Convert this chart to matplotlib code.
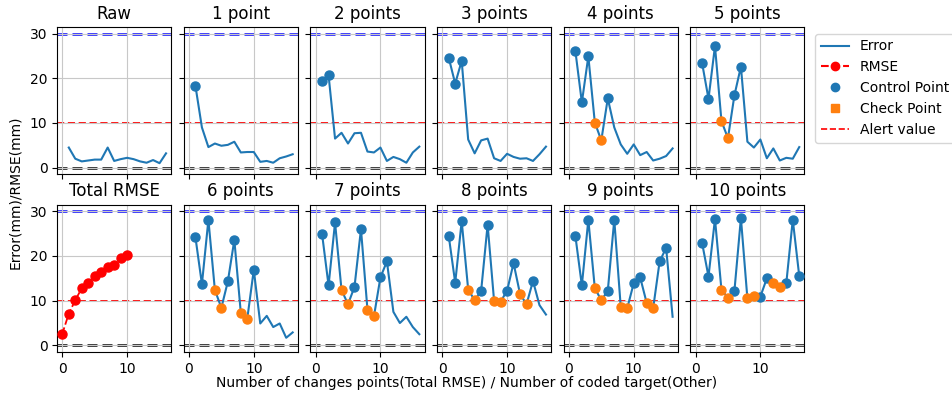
import matplotlib
matplotlib.use("Agg")
import matplotlib.pyplot as plt
from matplotlib.lines import Line2D

# ---------------- data ----------------
targets = [1, 2, 3, 4, 5, 6, 7, 8, 9, 10, 11, 12, 13, 14, 15, 16]

err_raw = [4.5, 2.0, 1.4, 1.6, 1.8, 1.8, 4.5, 1.5, 1.9, 2.2, 1.9, 1.4, 1.1, 1.7, 1.0, 3.2]
err_1 = [18.3, 9.0, 4.6, 5.4, 4.9, 5.1, 5.8, 3.4, 3.5, 3.5, 1.3, 1.5, 1.1, 2.1, 2.5, 3.0]
err_2 = [19.4, 20.7, 6.5, 7.8, 5.4, 7.7, 7.8, 3.6, 3.4, 4.5, 1.5, 2.4, 1.9, 1.1, 3.4, 4.7]
err_3 = [24.6, 18.8, 23.9, 6.3, 3.2, 6.1, 6.5, 2.1, 1.5, 3.1, 2.4, 2.0, 2.1, 1.5, 3.0, 4.7]
err_4 = [26.1, 14.6, 24.9, 10.1, 6.1, 15.5, 9.0, 5.2, 3.1, 5.2, 2.8, 3.5, 1.6, 2.0, 2.6, 4.3]
err_5 = [23.5, 15.4, 27.2, 10.4, 6.6, 16.2, 22.6, 5.8, 4.5, 6.3, 2.1, 4.3, 1.6, 2.2, 2.0, 4.6]
err_6 = [24.2, 13.7, 28.1, 12.4, 8.4, 14.3, 23.6, 7.3, 6.0, 16.9, 4.9, 6.6, 4.1, 4.9, 1.7, 2.9]
err_7 = [24.9, 13.4, 27.5, 12.4, 9.2, 13.1, 26.0, 8.0, 6.5, 15.2, 18.8, 7.5, 5.0, 6.4, 4.1, 2.5]
err_8 = [24.5, 14.0, 27.8, 12.5, 10.1, 12.2, 27.0, 9.9, 9.8, 12.2, 18.4, 11.5, 9.2, 14.4, 9.0, 6.9]
err_9 = [24.5, 13.4, 28.1, 12.8, 10.1, 12.2, 28.1, 8.6, 8.3, 13.9, 15.2, 9.5, 8.3, 18.8, 21.8, 6.4]
err_10 = [23.0, 15.4, 28.3, 12.4, 10.7, 12.2, 28.5, 10.5, 11.0, 10.9, 15.0, 13.9, 13.0, 13.9, 28.1, 15.5]

# indices (into targets) of control points and check points per panel
ctrl_1 = [0]
ctrl_2 = [0, 1]
ctrl_3 = [0, 1, 2]
ctrl_4 = [0, 1, 2, 5]
ctrl_5 = [0, 1, 2, 5, 6]
ctrl_6 = [0, 1, 2, 5, 6, 9]
ctrl_7 = [0, 1, 2, 5, 6, 9, 10]
ctrl_8 = [0, 1, 2, 5, 6, 9, 10, 13]
ctrl_9 = [0, 1, 2, 5, 6, 9, 10, 13, 14]
ctrl_10 = [0, 1, 2, 5, 6, 9, 10, 13, 14, 15]

chk_4 = [3, 4]
chk_5 = [3, 4]
chk_6 = [3, 4, 7, 8]
chk_7 = [3, 4, 7, 8]
chk_8 = [3, 4, 7, 8, 11, 12]
chk_9 = [3, 4, 7, 8, 11, 12]
chk_10 = [3, 4, 7, 8, 11, 12]

rmse_x = [0, 1, 2, 3, 4, 5, 6, 7, 8, 9, 10]
rmse_total = [2.6, 7.1, 10.1, 12.8, 14.0, 15.6, 16.5, 17.6, 18.0, 19.5, 20.3]

alert_value = 10
upper_value = 30
zero_value = 0

panel_titles = ["Raw", "1 point", "2 points", "3 points", "4 points", "5 points",
                "Total RMSE", "6 points", "7 points", "8 points", "9 points", "10 points"]
panel_err = [err_raw, err_1, err_2, err_3, err_4, err_5,
             None, err_6, err_7, err_8, err_9, err_10]
panel_ctrl = [[], ctrl_1, ctrl_2, ctrl_3, ctrl_4, ctrl_5,
              None, ctrl_6, ctrl_7, ctrl_8, ctrl_9, ctrl_10]
panel_chk = [[], [], [], [], chk_4, chk_5,
             None, chk_6, chk_7, chk_8, chk_9, chk_10]

# ---------------- figure ----------------
fig, axes = plt.subplots(2, 6, figsize=(9.52, 4.01), dpi=100, sharex=True, sharey=True)
fig.subplots_adjust(left=0.060, right=0.845, top=0.933, bottom=0.122,
                    wspace=0.11, hspace=0.205)

for k, ax in enumerate(axes.flat):
    ax.grid(True, color="#c8c8c8", lw=0.8, zorder=0)
    ax.axhline(upper_value, color="blue", ls=(0, (4, 2)), lw=1.8, zorder=1)
    ax.axhline(alert_value, color="red", ls=(0, (4, 2)), lw=1.3, zorder=1)
    ax.axhline(zero_value, color="black", ls=(0, (4, 2)), lw=1.8, zorder=1)
    if panel_err[k] is None:
        ax.plot(rmse_x, rmse_total, "o--", color="red", ms=6.5, lw=1.3, zorder=3)
    else:
        e = panel_err[k]
        ax.plot(targets, e, color="C0", lw=1.5, zorder=2)
        cx = [targets[i] for i in panel_ctrl[k]]
        cy = [e[i] for i in panel_ctrl[k]]
        if cx:
            ax.plot(cx, cy, "o", color="C0", ms=6.5, zorder=3)
        kx = [targets[i] for i in panel_chk[k]]
        ky = [e[i] for i in panel_chk[k]]
        if kx:
            ax.plot(kx, ky, "o", color="C1", ms=6.5, zorder=3)
    ax.set_title(panel_titles[k], fontsize=12)
    for s in ax.spines.values():
        s.set_color("black")

axes[0, 0].set_xlim(-0.8, 16.8)
axes[0, 0].set_ylim(-1.5, 31.5)
axes[0, 0].set_xticks([0, 10])
axes[0, 0].set_yticks([0, 10, 20, 30])
for ax in axes.flat:
    ax.tick_params(labelsize=10)

fig.text(0.49, 0.045, "Number of changes points(Total RMSE) / Number of coded target(Other)",
         ha="center", va="center", fontsize=10)
fig.text(0.016, 0.52, "Error(mm)/RMSE(mm)", rotation=90, ha="center", va="center",
         fontsize=10)

handles = [
    Line2D([], [], color="C0", lw=1.5),
    Line2D([], [], color="red", ls="--", marker="o", ms=6),
    Line2D([], [], color="C0", ls="none", marker="o", ms=6),
    Line2D([], [], color="C1", ls="none", marker="s", ms=6),
    Line2D([], [], color="red", ls="--", lw=1.2),
]
labels = ["Error", "RMSE", "Control Point", "Check Point", "Alert value"]
fig.legend(handles, labels, loc="upper left", bbox_to_anchor=(0.849, 0.933),
           fontsize=10, frameon=True)

fig.savefig("out.png", dpi=100)
